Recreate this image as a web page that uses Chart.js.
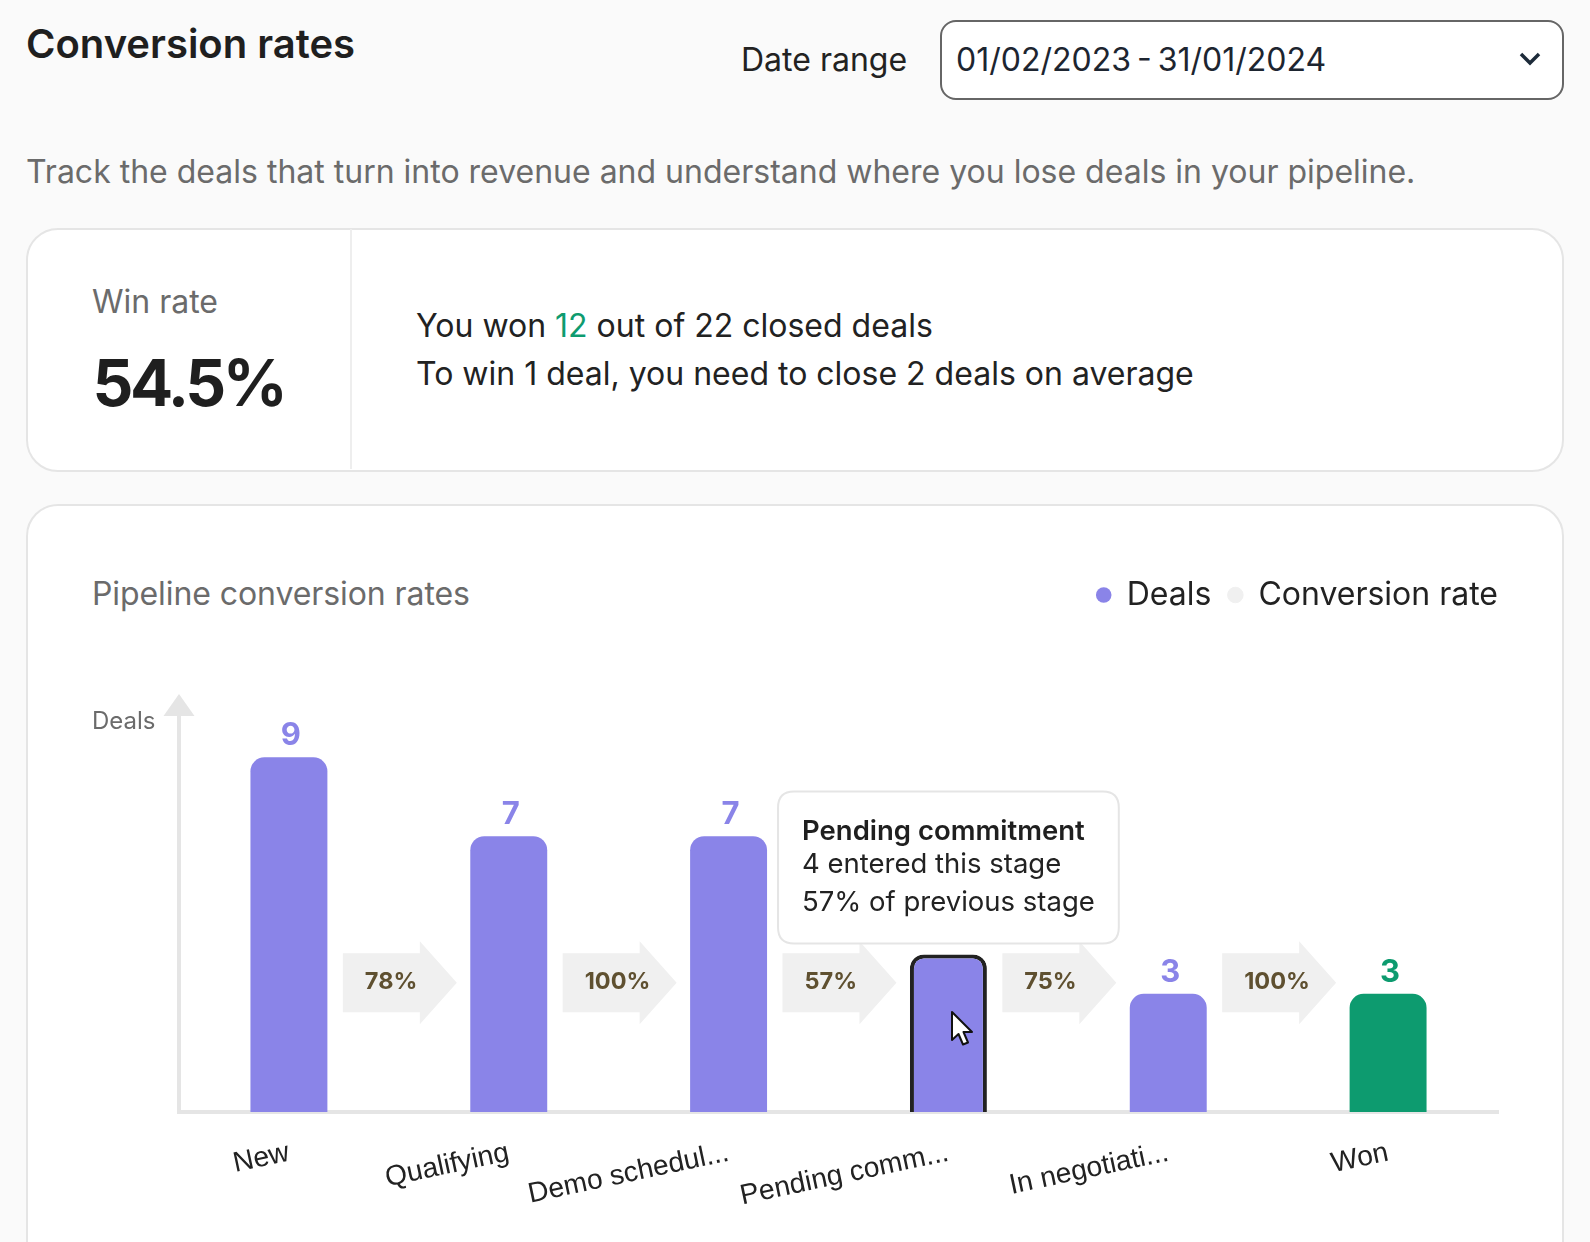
<!DOCTYPE html>
<html><head><meta charset="utf-8">
<script src="https://cdn.jsdelivr.net/npm/chart.js@4"></script>
<style>
html,body{margin:0;padding:0;background:#fafafa;width:1590px;height:1242px;overflow:hidden;font-family:Inter,sans-serif;color:#1f1f1f}
.a{position:absolute;white-space:nowrap;line-height:1}
.card{position:absolute;left:26px;width:1534px;background:#fff;border:2px solid #e5e5e5;border-radius:32px;box-sizing:content-box}
canvas{position:absolute;left:0;top:505px}
</style></head><body>
<div class="a" style="left:26px;top:24px;font-size:40px;font-weight:600">Conversion rates</div>
<div class="a" style="left:741px;top:44px;font-size:32px;color:#222">Date range</div>
<div class="a" style="left:940px;top:20px;width:620px;height:76px;border:2px solid #666;border-radius:16px;background:#fff"></div>
<div class="a" style="left:956px;top:44px;font-size:32px;color:#1d2530;word-spacing:-3px">01/02/2023 - 31/01/2024</div>
<svg class="a" style="left:1518px;top:50px" width="24" height="20"><polyline points="3,4 12,13 21,4" fill="none" stroke="#1d2b3a" stroke-width="3.5"/></svg>
<div class="a" style="left:26px;top:156px;font-size:32px;color:#6b6b6b">Track the deals that turn into revenue and understand where you lose deals in your pipeline.</div>
<div class="card" style="top:228px;height:240px"></div>
<div class="a" style="left:350px;top:229px;width:2px;height:240px;background:#eeeeee"></div>
<div class="a" style="left:92px;top:286px;font-size:32px;color:#6b6b6b">Win rate</div>
<div class="a" style="left:92.5px;top:351px;font-size:64px;font-weight:700;letter-spacing:-3.4px">54.5%</div>
<div class="a" style="left:416px;top:310px;font-size:32px;color:#222">You won <span style="color:#0e9b6f">12</span> out of 22 closed deals</div>
<div class="a" style="left:416px;top:358px;font-size:32px;color:#222">To win 1 deal, you need to close 2 deals on average</div>
<div class="card" style="top:504px;height:800px"></div>
<div class="a" style="left:92px;top:578px;font-size:32px;color:#6b6b6b;letter-spacing:-0.08px">Pipeline conversion rates</div>
<canvas id="c" width="1590" height="737"></canvas>
<svg class="a" style="left:950px;top:1010px;z-index:5" width="28" height="40"><path d="M2 2 L2 30 L8.5 24 L13 34.5 L18 32.5 L13.5 22 L22 22 Z" fill="#fff" stroke="#111" stroke-width="2" stroke-linejoin="round"/></svg>
<script>
const categories = ['New','Qualifying','Demo scheduled','Pending commitment','In negotiation','Won'];
const tickLabels = ['New','Qualifying','Demo schedul...','Pending comm...','In negotiati...','Won'];
const deals = [9,7,7,4,3,3];
const conversionRates = [78,100,57,75,100];
const yTopValue = 10.05;

const PURPLE='#8a84e8', GREEN='#0d9b6f', ARROW='#f0f0f0';
const barColors=[PURPLE,PURPLE,PURPLE,PURPLE,PURPLE,GREEN];
const arrowLevel=3.28;

const overlay={
  id:'overlay',
  beforeInit(chart){
    const f=chart.legend.fit;
    chart.legend.fit=function(){f.call(this);this.height+=152;};
  },
  afterLayout(chart){
    chart.legend.top+=57;
    chart.legend.right+=17;
  },
  afterDatasetsDraw(chart){
    const {ctx,scales:{x,y}}=chart;
    ctx.save();
    const cy=y.getPixelForValue(arrowLevel);
    conversionRates.forEach((v,i)=>{
      const cx=x.getPixelForValue(i+0.5)+1;
      ctx.fillStyle=ARROW;
      ctx.beginPath();
      ctx.moveTo(cx-57,cy-29.5);ctx.lineTo(cx+20,cy-29.5);ctx.lineTo(cx+20,cy-41.5);
      ctx.lineTo(cx+57,cy);ctx.lineTo(cx+20,cy+41.5);ctx.lineTo(cx+20,cy+29.5);ctx.lineTo(cx-57,cy+29.5);
      ctx.closePath();ctx.fill();
      ctx.fillStyle='#5f5030';ctx.font='700 23.5px Inter';ctx.textAlign='left';ctx.textBaseline='middle';
      ctx.fillText(v+'%',cx-35,cy-1);
    });
    const meta=chart.getDatasetMeta(0);
    meta.data.forEach((b,i)=>{
      ctx.fillStyle=barColors[i];ctx.font='700 31px Inter';ctx.textAlign='center';ctx.textBaseline='middle';
      ctx.fillText(deals[i],b.x+2,b.y-21.5);
    });
    const ax=x.left, top=y.top;
    ctx.fillStyle='#e5e5e5';
    ctx.beginPath();ctx.moveTo(ax-15.5,top);ctx.lineTo(ax,top-22);ctx.lineTo(ax+15.5,top);ctx.closePath();ctx.fill();
    ctx.fillStyle='#6b6b6b';ctx.font='24px Inter';ctx.textAlign='left';ctx.textBaseline='middle';
    ctx.fillText('Deals',92,top+6);
    ctx.restore();
  }
};

const chart=new Chart(document.getElementById('c'),{
  type:'bar',
  data:{labels:categories,datasets:[
    {label:'Deals',data:deals,backgroundColor:barColors,
     borderColor:['transparent','transparent','transparent','#222222','transparent','transparent'],
     borderWidth:[0,0,0,4,0,0],borderSkipped:'bottom',
     borderRadius:{topLeft:14,topRight:14,bottomLeft:0,bottomRight:0},
     barPercentage:0.35,categoryPercentage:1,order:1},
    {type:'line',label:'Conversion rate',data:conversionRates,yAxisID:'rate',showLine:false,
     pointRadius:0,backgroundColor:ARROW,borderColor:ARROW,order:2}
  ]},
  options:{
    responsive:false,animation:false,devicePixelRatio:1,events:[],
    layout:{padding:{left:179,right:92,top:0,bottom:0}},
    scales:{
      x:{offset:true,grid:{display:false,drawTicks:false},border:{display:true,color:'#e5e5e5',width:4},
         afterFit(s){s.height=130;},
         ticks:{autoSkip:false,minRotation:12,maxRotation:12,padding:24,color:'#222',
                font:{family:'"Liberation Sans"',size:28.3},
                callback(v,i){return tickLabels[i];}}},
      y:{min:0,max:yTopValue,grid:{display:false,drawTicks:false},border:{display:true,color:'#e5e5e5',width:4},
         ticks:{display:false},afterFit(s){s.width=0;}},
      rate:{display:false,min:0,max:100}
    },
    plugins:{
      legend:{display:true,position:'top',align:'end',
        labels:{usePointStyle:true,pointStyle:'circle',boxWidth:14,boxHeight:11,padding:17,
                color:'#222',font:{family:'Inter',size:32}}},
      title:{display:false},
      tooltip:{enabled:true,animation:false,position:'average',xAlign:'center',yAlign:'bottom',
        caretSize:0,caretPadding:11,displayColors:false,backgroundColor:'#fff',
        borderColor:'#e5e5e5',borderWidth:2,cornerRadius:16,padding:{left:24,right:24,top:24,bottom:24},
        titleColor:'#1f1f1f',bodyColor:'#222',
        titleFont:{family:'Inter',size:27.5,weight:'600'},bodyFont:{family:'Inter',size:27.5,weight:'400'},
        titleMarginBottom:0,bodySpacing:5,
        callbacks:{
          title(items){return categories[items[0].dataIndex];},
          label(item){const i=item.dataIndex;return [deals[i]+' entered this stage',conversionRates[i-1]+'% of previous stage'];}
        }}
    }
  },
  plugins:[overlay]
});
chart.tooltip.setActiveElements([{datasetIndex:0,index:3}],{x:0,y:0});
chart.update('none');
</script>
</body></html>
